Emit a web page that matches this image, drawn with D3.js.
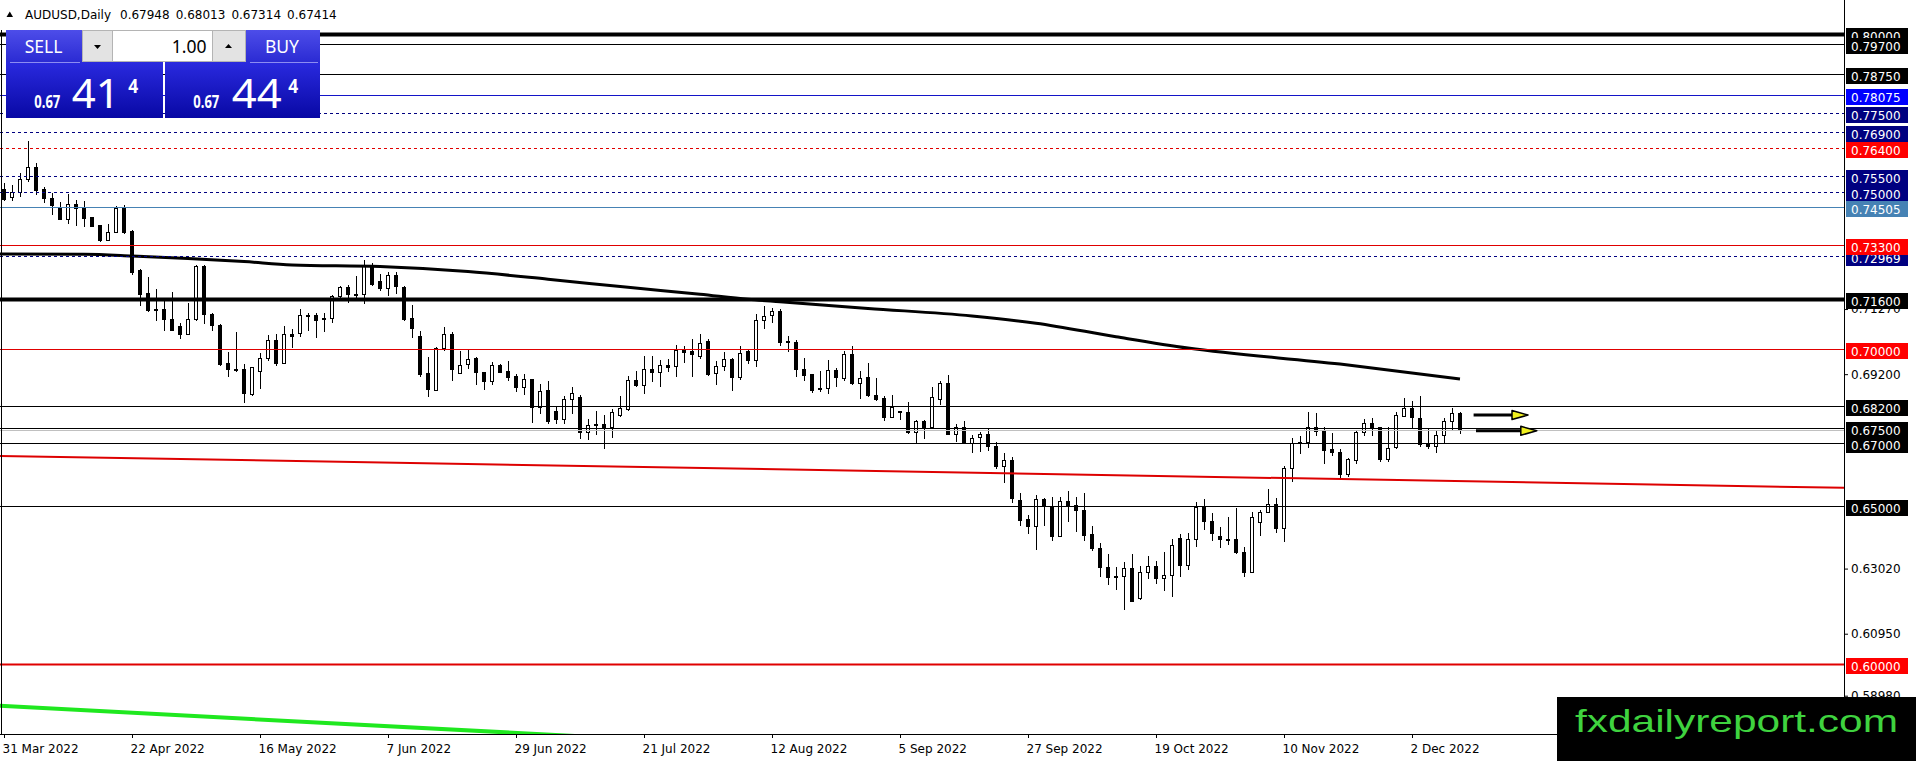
<!DOCTYPE html>
<html lang="en">
<head>
<meta charset="UTF-8">
<title>AUDUSD, Daily</title>
<script src="https://d3js.org/d3.v7.min.js"></script>
<style>
  html, body { margin: 0; padding: 0; background: #fff; overflow: hidden; }
  svg { display: block; font-family: "DejaVu Sans", sans-serif; }
</style>
</head>
<body>
<svg id="chart" width="1916" height="761"></svg>
<script>
// daily bars, 31 Mar 2022 .. 12 Dec 2022 (bar index 0 .. 182)
const opens = [
  0.7506,0.7481,0.7498,0.7540,0.7576,0.7506,0.7478,0.7448,0.7413,0.7458,
  0.7448,0.7418,0.7392,0.7344,0.7369,0.7446,0.7374,0.7249,0.7177,0.7126,
  0.7126,0.7094,0.7070,0.7047,0.7094,0.7263,0.7110,0.7074,0.6954,0.6936,
  0.6936,0.6855,0.6928,0.6970,0.7028,0.6954,0.7047,0.7050,0.7108,0.7105,
  0.7098,0.7098,0.7166,0.7197,0.7174,0.7174,0.7261,0.7213,0.7193,0.7235,
  0.7197,0.7098,0.7039,0.6921,0.6868,0.7003,0.7045,0.6921,0.6950,0.6970,
  0.6924,0.6896,0.6946,0.6929,0.6912,0.6878,0.6903,0.6813,0.6868,0.6800,
  0.6776,0.6838,0.6847,0.6734,0.6758,0.6760,0.6752,0.6788,0.6808,0.6899,
  0.6884,0.6934,0.6926,0.6949,0.6945,0.6996,0.6992,0.6975,0.7024,0.6921,
  0.6944,0.6968,0.6910,0.6991,0.6963,0.7091,0.7108,0.7118,0.7023,0.7021,
  0.6934,0.6918,0.6870,0.6876,0.6931,0.6905,0.6981,0.6889,0.6908,0.6852,
  0.6843,0.6783,0.6801,0.6798,0.6733,0.6770,0.6750,0.6838,0.6889,0.6728,
  0.6749,0.6701,0.6718,0.6728,0.6691,0.6627,0.6646,0.6518,0.6457,0.6436,
  0.6522,0.6499,0.6404,0.6515,0.6504,0.6488,0.6409,0.6367,0.6304,0.6277,
  0.6277,0.6301,0.6208,0.6290,0.6309,0.6272,0.6280,0.6398,0.6312,0.6395,
  0.6499,0.6453,0.6404,0.6395,0.6395,0.6354,0.6288,0.6449,0.6480,0.6506,
  0.6430,0.6620,0.6699,0.6702,0.6752,0.6741,0.6681,0.6670,0.6602,0.6646,
  0.6733,0.6764,0.6749,0.6649,0.6686,0.6787,0.6810,0.6778,0.6697,0.6689,
  0.6725,0.6768,0.67948
];
const highs = [
  0.7527,0.7521,0.7558,0.7662,0.7592,0.7516,0.7495,0.7467,0.7493,0.7474,
  0.7469,0.7421,0.7395,0.7397,0.7453,0.7459,0.7377,0.7253,0.7228,0.7190,
  0.7152,0.7181,0.7084,0.7147,0.7268,0.7268,0.7116,0.7079,0.6989,0.7055,
  0.6952,0.6942,0.6986,0.7045,0.7047,0.7073,0.7063,0.7126,0.7116,0.7116,
  0.7114,0.7173,0.7200,0.7205,0.7233,0.7284,0.7274,0.7237,0.7245,0.7245,
  0.7200,0.7140,0.7058,0.6973,0.7005,0.7070,0.7055,0.6994,0.6996,0.6973,
  0.6926,0.6960,0.6952,0.6963,0.6921,0.6921,0.6905,0.6889,0.6897,0.6815,
  0.6850,0.6878,0.6855,0.6778,0.6802,0.6789,0.6810,0.6852,0.6915,0.6931,
  0.6979,0.6979,0.6966,0.6968,0.7012,0.7010,0.7031,0.7047,0.7031,0.6963,
  0.6989,0.6971,0.7010,0.6996,0.7110,0.7136,0.7129,0.7126,0.7042,0.7028,
  0.6971,0.6922,0.6931,0.6965,0.6940,0.6994,0.7010,0.6931,0.6957,0.6908,
  0.6852,0.6854,0.6804,0.6833,0.6775,0.6775,0.6878,0.6899,0.6918,0.6762,
  0.6771,0.6726,0.6736,0.6750,0.6704,0.6670,0.6657,0.6541,0.6472,0.6536,
  0.6525,0.6528,0.6528,0.6549,0.6528,0.6541,0.6436,0.6383,0.6349,0.6307,
  0.6322,0.6349,0.6311,0.6343,0.6325,0.6356,0.6395,0.6412,0.6414,0.6514,
  0.6523,0.6480,0.6435,0.6467,0.6494,0.6372,0.6483,0.6488,0.6555,0.6525,
  0.6627,0.6718,0.6725,0.6799,0.6796,0.6752,0.6733,0.6683,0.6655,0.6741,
  0.6778,0.6781,0.6752,0.6752,0.6799,0.6845,0.6836,0.6852,0.6746,0.6743,
  0.6781,0.6813,0.68013
];
const lows = [
  0.7469,0.7469,0.7482,0.7532,0.7488,0.7464,0.7427,0.7411,0.7397,0.7390,
  0.7387,0.7387,0.7339,0.7342,0.7369,0.7364,0.7234,0.7137,0.7119,0.7089,
  0.7058,0.7058,0.7031,0.7045,0.7089,0.7079,0.7058,0.6947,0.6910,0.6926,
  0.6828,0.6852,0.6873,0.6963,0.6947,0.6952,0.7003,0.7039,0.7058,0.7034,
  0.7055,0.7084,0.7163,0.7147,0.7158,0.7142,0.7200,0.7184,0.7168,0.7176,
  0.7089,0.7034,0.6912,0.6849,0.6868,0.6994,0.6897,0.6919,0.6936,0.6884,
  0.6870,0.6887,0.6923,0.6897,0.6862,0.6854,0.6765,0.6792,0.6761,0.6762,
  0.6762,0.6794,0.6713,0.6710,0.6726,0.6683,0.6718,0.6784,0.6803,0.6879,
  0.6857,0.6894,0.6879,0.6926,0.6912,0.6957,0.6910,0.6968,0.6915,0.6884,
  0.6931,0.6868,0.6900,0.6952,0.6944,0.7063,0.7084,0.7010,0.6989,0.6910,
  0.6897,0.6859,0.6862,0.6857,0.6878,0.6899,0.6887,0.6841,0.6849,0.6834,
  0.6771,0.6781,0.6773,0.6731,0.6699,0.6715,0.6745,0.6823,0.6726,0.6704,
  0.6697,0.6670,0.6673,0.6676,0.6620,0.6575,0.6511,0.6438,0.6412,0.6362,
  0.6436,0.6391,0.6402,0.6451,0.6417,0.6391,0.6357,0.6275,0.6251,0.6235,
  0.6170,0.6195,0.6203,0.6269,0.6254,0.6230,0.6212,0.6275,0.6299,0.6372,
  0.6425,0.6391,0.6367,0.6378,0.6349,0.6275,0.6288,0.6407,0.6478,0.6416,
  0.6388,0.6578,0.6665,0.6686,0.6722,0.6636,0.6659,0.6586,0.6594,0.6636,
  0.6725,0.6722,0.6641,0.6641,0.6683,0.6783,0.6747,0.6689,0.6683,0.6670,
  0.6699,0.6741,0.67314
];
const closes = [
  0.7474,0.7498,0.7540,0.7576,0.7505,0.7478,0.7457,0.7413,0.7458,0.7448,
  0.7416,0.7390,0.7345,0.7369,0.7446,0.7369,0.7242,0.7174,0.7121,0.7123,
  0.7094,0.7060,0.7047,0.7094,0.7263,0.7110,0.7076,0.6952,0.6936,0.6934,
  0.6857,0.6940,0.6970,0.7028,0.6954,0.7047,0.7040,0.7107,0.7105,0.7091,
  0.7095,0.7166,0.7197,0.7174,0.7172,0.7261,0.7205,0.7193,0.7235,0.7200,
  0.7095,0.7066,0.6919,0.6870,0.7003,0.7045,0.6936,0.6949,0.6968,0.6924,
  0.6896,0.6949,0.6926,0.6910,0.6878,0.6902,0.6813,0.6865,0.6771,0.6776,
  0.6838,0.6859,0.6733,0.6757,0.6760,0.6752,0.6797,0.6810,0.6899,0.6884,
  0.6934,0.6926,0.6949,0.6942,0.6994,0.6989,0.6981,0.7018,0.6919,0.6944,
  0.6968,0.6910,0.6987,0.6965,0.7091,0.7103,0.7119,0.7021,0.7020,0.6936,
  0.6917,0.6868,0.6876,0.6931,0.6908,0.6981,0.6889,0.6905,0.6852,0.6841,
  0.6783,0.6815,0.6798,0.6733,0.6769,0.6752,0.6847,0.6889,0.6728,0.6749,
  0.6699,0.6715,0.6728,0.6689,0.6627,0.6646,0.6525,0.6455,0.6436,0.6522,
  0.6501,0.6404,0.6515,0.6499,0.6486,0.6406,0.6367,0.6304,0.6275,0.6274,
  0.6301,0.6198,0.6290,0.6309,0.6272,0.6280,0.6375,0.6312,0.6395,0.6497,
  0.6451,0.6412,0.6393,0.6393,0.6353,0.6288,0.6465,0.6480,0.6506,0.6430,
  0.6620,0.6701,0.6704,0.6752,0.6739,0.6678,0.6670,0.6602,0.6650,0.6733,
  0.6764,0.6752,0.6649,0.6685,0.6789,0.6810,0.6783,0.6696,0.6689,0.6725,
  0.6768,0.6794,0.67414
];

// date scale labels (bar index -> text)
const dateTicks = [0, 16, 32, 48, 64, 80, 96, 112, 128, 144, 160, 176];
const dateLabels = ['31 Mar 2022', '22 Apr 2022', '16 May 2022', '7 Jun 2022', '29 Jun 2022', '21 Jul 2022',
  '12 Aug 2022', '5 Sep 2022', '27 Sep 2022', '19 Oct 2022', '10 Nov 2022', '2 Dec 2022'];

// price scale ticks that are not hidden under the level tags
const priceTicks = [0.71270, 0.69200, 0.63020, 0.60950, 0.58980];

// moving average, read at a few bars (-0.5 = left edge of the chart)
const maBars = [-0.5, 10, 16, 23, 30, 36, 47, 58, 68, 78, 87, 93, 97, 108, 121, 129, 139, 148, 167, 182];
const maValues = [0.7302, 0.7301, 0.7296, 0.7288, 0.7278, 0.7267, 0.7262, 0.7246, 0.7222, 0.7196,
  0.7174, 0.7158, 0.7150, 0.7129, 0.7105, 0.7082, 0.7039, 0.7003, 0.6952, 0.6905];

// horizontal levels (drawing order)
const levelPrices = [0.80000, 0.79700, 0.78750, 0.78075, 0.77500, 0.76900, 0.76400, 0.75500, 0.75000,
  0.74505, 0.72969, 0.73300, 0.71600, 0.70000, 0.68200, 0.67500, 0.67000, 0.65000, 0.60000];

// trend lines: [bar, price] anchors
const redTrend = [[0, 0.6660], [182, 0.6580]];
const greenTrend = [[0, 0.5865], [36, 0.5817]];

// arrows: start bar, tip bar, price
const arrowStart = [183.7, 184.0];
const arrowTip = [188.5, 189.6];
const arrowPrice = [0.6790, 0.6740];

const header = { symbol: 'AUDUSD,Daily', ohlc: ['0.67948', '0.68013', '0.67314', '0.67414'] };

const svg = d3.select('#chart');
const plotRight = 1844, plotBottom = 734;

const x = d3.scaleLinear().domain([0, 230]).range([4, 1844]);
const y = d3.scaleLinear().domain([0.60, 0.80]).range([663.6, 34.4]);

const defs = svg.append('defs');
defs.append('clipPath').attr('id', 'plot-clip')
  .append('rect').attr('x', 0).attr('y', 0).attr('width', plotRight).attr('height', plotBottom);

function gradient(id, top, bottom) {
  const g = defs.append('linearGradient').attr('id', id)
    .attr('x1', 0).attr('y1', 0).attr('x2', 0).attr('y2', 1);
  g.append('stop').attr('offset', '0%').attr('stop-color', top);
  g.append('stop').attr('offset', '100%').attr('stop-color', bottom);
}
gradient('btn-grad', '#4d4de9', '#2b2bd3');
gradient('price-grad', '#2a2adf', '#0808a4');

svg.append('rect').attr('width', 1916).attr('height', 761).attr('fill', '#fff');

const plot = svg.append('g').attr('clip-path', 'url(#plot-clip)');

// candles
const bars = d3.range(opens.length).map(i => ({ i, o: opens[i], h: highs[i], l: lows[i], c: closes[i] }));
const cx = d => Math.round(x(d.i));

const candle = plot.append('g').attr('shape-rendering', 'crispEdges')
  .selectAll('g').data(bars).enter().append('g');

candle.append('line')
  .attr('x1', d => cx(d) + 0.5).attr('x2', d => cx(d) + 0.5)
  .attr('y1', d => y(d.h)).attr('y2', d => y(d.l))
  .attr('stroke', '#000');

candle.append('rect')
  .attr('x', d => cx(d) - 1.5)
  .attr('width', 3)
  .attr('y', d => Math.min(y(d.o), y(d.c)))
  .attr('height', d => Math.max(1, Math.abs(y(d.o) - y(d.c))))
  .attr('fill', d => d.c >= d.o ? '#fff' : '#000')
  .attr('stroke', '#000');

// bid line
plot.append('line')
  .attr('x1', 0).attr('x2', plotRight)
  .attr('y1', Math.round(y(closes[closes.length - 1])) + 0.5)
  .attr('y2', Math.round(y(closes[closes.length - 1])) + 0.5)
  .attr('stroke', '#c0c0c0');

// moving average
const maLine = d3.line().x(d => x(d[0])).y(d => y(d[1])).curve(d3.curveMonotoneX);
plot.append('path')
  .datum(maBars.map((b, k) => [b, maValues[k]]))
  .attr('d', maLine)
  .attr('fill', 'none').attr('stroke', '#000').attr('stroke-width', 3);

// horizontal levels
const look = {
  thick:  { line: '#000', w: 4, dash: null, box: '#000' },
  black:  { line: '#000', w: 1, dash: null, box: '#000' },
  blue:   { line: '#1414c8', w: 1, dash: null, box: '#0000ff' },
  navy:   { line: '#000080', w: 1, dash: '3,3', box: '#000080' },
  redDash:{ line: '#e00000', w: 1, dash: '3,3', box: '#ff0000' },
  steel:  { line: '#4682b4', w: 1, dash: null, box: '#4682b4' },
  red:    { line: '#e00000', w: 1, dash: null, box: '#ff0000' },
  red2:   { line: '#e00000', w: 2, dash: null, box: '#ff0000' }
};
const levelKind = ['thick', 'black', 'black', 'blue', 'navy', 'navy', 'redDash', 'navy', 'navy',
  'steel', 'navy', 'red', 'thick', 'red', 'black', 'black', 'black', 'black', 'red2'];

const levelY = p => Math.round(y(p)) + 0.5;
plot.append('g').selectAll('line').data(levelPrices).enter().append('line')
  .attr('x1', 0).attr('x2', plotRight)
  .attr('y1', d => levelY(d)).attr('y2', d => levelY(d))
  .attr('stroke', (d, k) => look[levelKind[k]].line)
  .attr('stroke-width', (d, k) => look[levelKind[k]].w)
  .attr('stroke-dasharray', (d, k) => look[levelKind[k]].dash);

// trend lines extended across the chart
function ray(anchors) {
  const [[b0, p0], [b1, p1]] = anchors;
  const slope = (p1 - p0) / (b1 - b0);
  return [[-1, p0 - slope * (b0 + 1)], [230, p0 + slope * (230 - b0)]];
}
const straight = d3.line().x(d => x(d[0])).y(d => y(d[1]));
plot.append('path').datum(ray(redTrend)).attr('d', straight)
  .attr('fill', 'none').attr('stroke', '#dd0000').attr('stroke-width', 2);
plot.append('path').datum(ray(greenTrend)).attr('d', straight)
  .attr('fill', 'none').attr('stroke', '#1fe81f').attr('stroke-width', 4);

// arrows
arrowPrice.forEach((p, k) => {
  const yy = y(p), x0 = x(arrowStart[k]), xt = x(arrowTip[k]);
  plot.append('line').attr('x1', x0).attr('x2', xt).attr('y1', yy).attr('y2', yy)
    .attr('stroke', '#000').attr('stroke-width', 3);
  plot.append('path')
    .attr('d', `M${xt},${yy - 4.5} L${xt + 16},${yy} L${xt},${yy + 4.5} Z`)
    .attr('fill', '#f0f020').attr('stroke', '#000').attr('stroke-width', 1.5)
    .attr('stroke-linejoin', 'round');
});

// frame
svg.append('line').attr('x1', 1.5).attr('x2', 1.5).attr('y1', 30).attr('y2', plotBottom)
  .attr('stroke', '#000');
svg.append('line').attr('x1', 0).attr('x2', plotRight).attr('y1', plotBottom + 0.5).attr('y2', plotBottom + 0.5)
  .attr('stroke', '#000');
svg.append('line').attr('x1', plotRight + 0.5).attr('x2', plotRight + 0.5).attr('y1', 0).attr('y2', 761)
  .attr('stroke', '#000');

// date axis
const xAxis = svg.append('g')
  .attr('transform', `translate(0,${plotBottom})`)
  .call(d3.axisBottom(x).tickValues(dateTicks).tickSize(4).tickPadding(6)
    .tickFormat((d, k) => dateLabels[k]));
xAxis.select('.domain').remove();
xAxis.selectAll('text').attr('text-anchor', 'start').attr('dx', -2)
  .attr('font-family', '"DejaVu Sans", sans-serif').attr('font-size', 12).attr('fill', '#000');

// price axis
const yAxis = svg.append('g')
  .attr('transform', `translate(${plotRight},0)`)
  .call(d3.axisRight(y).tickValues(priceTicks).tickSize(4).tickPadding(3)
    .tickFormat(d3.format('.5f')));
yAxis.select('.domain').remove();
yAxis.selectAll('text').attr('font-family', '"DejaVu Sans", sans-serif').attr('font-size', 12).attr('fill', '#000');

// level labels on the price axis
const tags = svg.append('g').selectAll('g').data(levelPrices).enter().append('g');
tags.append('rect')
  .attr('x', 1846).attr('width', 62)
  .attr('y', d => Math.round(y(d)) - 6).attr('height', 16)
  .attr('fill', (d, k) => look[levelKind[k]].box);
tags.append('text')
  .attr('x', 1851).attr('y', d => Math.round(y(d)) + 7)
  .attr('font-size', 12).attr('fill', '#fff')
  .text(d => d3.format('.5f')(d));

// header
svg.append('path').attr('d', 'M6.5,17 L9.8,11.5 L13,17 Z').attr('fill', '#000');
svg.append('text').attr('x', 25).attr('y', 18.5).attr('font-size', 12).text(header.symbol);
svg.append('g').selectAll('text').data(header.ohlc).enter().append('text')
  .attr('x', (d, k) => 120 + k * 55.7).attr('y', 18.5).attr('font-size', 12).text(d => d);

// one click trading panel
const panel = svg.append('g').attr('font-family', '"Noto Sans", sans-serif');
panel.append('rect').attr('x', 6).attr('y', 30).attr('width', 76).attr('height', 32).attr('fill', 'url(#btn-grad)');
panel.append('rect').attr('x', 246).attr('y', 30).attr('width', 74).attr('height', 32).attr('fill', 'url(#btn-grad)');
panel.append('rect').attr('x', 6).attr('y', 62).attr('width', 157).attr('height', 56).attr('fill', 'url(#price-grad)');
panel.append('rect').attr('x', 165).attr('y', 62).attr('width', 155).attr('height', 56).attr('fill', 'url(#price-grad)');
panel.append('line').attr('x1', 10).attr('x2', 80).attr('y1', 62.5).attr('y2', 62.5).attr('stroke', '#8c8cf2');
panel.append('line').attr('x1', 250).attr('x2', 318).attr('y1', 62.5).attr('y2', 62.5).attr('stroke', '#8c8cf2');

panel.append('rect').attr('x', 82.5).attr('y', 30.5).attr('width', 30).attr('height', 31)
  .attr('fill', '#e3e3e3').attr('stroke', '#b4b4b4');
panel.append('rect').attr('x', 112.5).attr('y', 30.5).attr('width', 100).attr('height', 31)
  .attr('fill', '#fff').attr('stroke', '#b4b4b4');
panel.append('rect').attr('x', 212.5).attr('y', 30.5).attr('width', 33).attr('height', 31)
  .attr('fill', '#e3e3e3').attr('stroke', '#b4b4b4');
panel.append('path').attr('d', 'M94,45 L101,45 L97.5,49 Z').attr('fill', '#000');
panel.append('path').attr('d', 'M225,48 L232,48 L228.5,44 Z').attr('fill', '#000');

panel.append('text').attr('x', 43.5).attr('y', 53.3).attr('text-anchor', 'middle')
  .attr('font-size', 17.5).attr('fill', '#fff').text('SELL');
panel.append('text').attr('x', 282).attr('y', 53.3).attr('text-anchor', 'middle')
  .attr('font-size', 17.5).attr('fill', '#fff').text('BUY');
panel.append('text').attr('x', 206.5).attr('y', 53.3).attr('text-anchor', 'end')
  .attr('font-size', 17.5).attr('fill', '#000').text('1.00');

const quotes = [
  { big: '0.67', mid: '41', sup: '4', x0: 34.3, x1: 71.7, x2: 128.3, w: 48 },
  { big: '0.67', mid: '44', sup: '4', x0: 193.3, x1: 231.7, x2: 288.3, w: 50 }
];
quotes.forEach(q => {
  panel.append('text').attr('x', q.x0).attr('y', 108.3).attr('font-size', 17.5).attr('font-weight', 'bold')
    .attr('fill', '#fff').attr('textLength', 26).attr('lengthAdjust', 'spacingAndGlyphs').text(q.big);
  panel.append('text').attr('x', q.x1).attr('y', 108.3).attr('font-size', 40)
    .attr('fill', '#fff').attr('textLength', q.w).attr('lengthAdjust', 'spacingAndGlyphs').text(q.mid);
  panel.append('text').attr('x', q.x2).attr('y', 92.7).attr('font-size', 20).attr('font-weight', 'bold')
    .attr('fill', '#fff').attr('textLength', 10).attr('lengthAdjust', 'spacingAndGlyphs').text(q.sup);
});

// watermark
svg.append('rect').attr('x', 1557).attr('y', 697).attr('width', 359).attr('height', 64).attr('fill', '#000');
svg.append('text').attr('x', 1575).attr('y', 732.3)
  .attr('font-family', '"Liberation Sans", Arial, sans-serif').attr('font-size', 32)
  .attr('textLength', 323).attr('lengthAdjust', 'spacingAndGlyphs')
  .attr('fill', '#3fd33f').text('fxdailyreport.com');
</script>
</body>
</html>
